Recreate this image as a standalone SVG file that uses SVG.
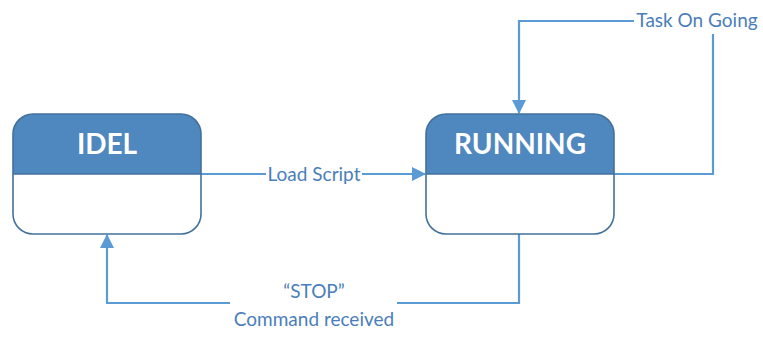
<svg xmlns="http://www.w3.org/2000/svg" width="763" height="338" viewBox="0 0 763 338">
<style>
.hdr{fill:#4F88BE;}
.box{fill:none;stroke:#41719C;stroke-width:1.6;}
.div{stroke:#41719C;stroke-width:1.6;}
.title{font-family:Lato,"Liberation Sans",sans-serif;font-weight:bold;font-size:28px;fill:#ffffff;text-anchor:middle;}
.lbl{font-family:Lato,"Liberation Sans",sans-serif;font-size:19px;fill:#4A7EBB;text-anchor:middle;}
.conn{fill:none;stroke:#5B9BD5;stroke-width:2.2;}
.bg{fill:#ffffff;}
</style>
<defs>
<marker id="arr" markerWidth="14" markerHeight="14" refX="13" refY="7" orient="auto" markerUnits="userSpaceOnUse">
<path d="M0,0 L14,7 L0,14 Z" fill="#5B9BD5"/>
</marker>
</defs>
<rect width="763" height="338" fill="#ffffff"/>
<g id="connectors">
<path class="conn" d="M201,174 L425,174" marker-end="url(#arr)"/>
<path class="conn" d="M614,174 L713,174 L713,21 L519,21 L519,113" marker-end="url(#arr)"/>
<path class="conn" d="M519,234 L519,303 L107,303 L107,235" marker-end="url(#arr)"/>
<rect class="bg" x="266" y="164" width="96" height="22"/>
<text class="lbl" x="314" y="181">Load Script</text>
<rect class="bg" x="634" y="8" width="128" height="26"/>
<text class="lbl" x="697" y="27">Task On Going</text>
<rect class="bg" x="230" y="280" width="167" height="50"/>
<text class="lbl" x="314" y="298">“STOP”</text>
<text class="lbl" x="314" y="326">Command received</text>
</g>
<g id="idel">
<path class="hdr" d="M13,174 L13,134 A20,20 0 0 1 33,114 L181,114 A20,20 0 0 1 201,134 L201,174 Z"/>
<rect class="box" x="13" y="114" width="188" height="120" rx="20" ry="20"/>
<line class="div" x1="13" y1="174" x2="201" y2="174"/>
<text class="title" x="107" y="154">IDEL</text>
</g>
<g id="running">
<path class="hdr" d="M426,174 L426,134 A20,20 0 0 1 446,114 L594,114 A20,20 0 0 1 614,134 L614,174 Z"/>
<rect class="box" x="426" y="114" width="188" height="120" rx="20" ry="20"/>
<line class="div" x1="426" y1="174" x2="614" y2="174"/>
<text class="title" x="520" y="154">RUNNING</text>
</g>
</svg>
